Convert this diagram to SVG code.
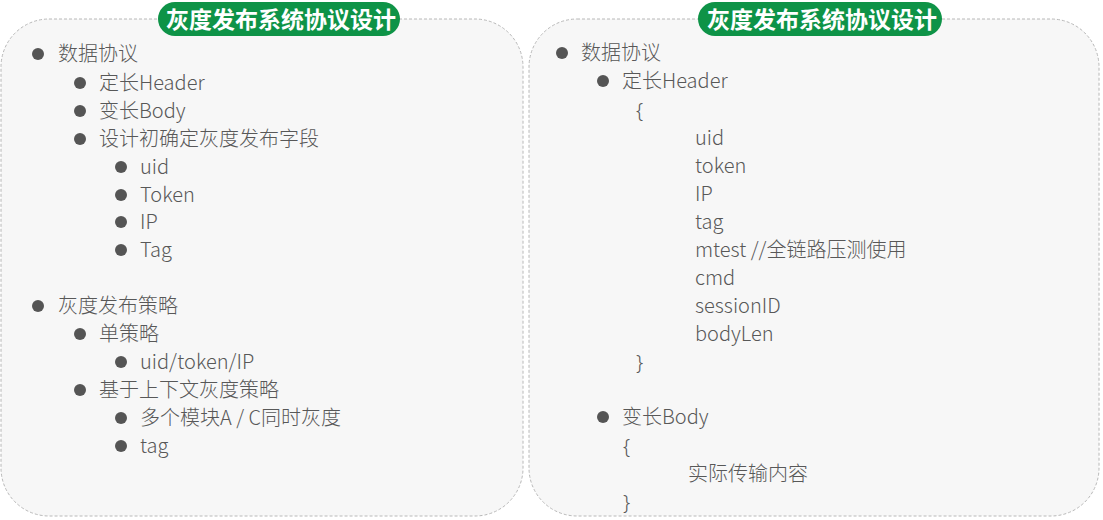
<svg xmlns="http://www.w3.org/2000/svg" width="1103" height="520" viewBox="0 0 1103 520">
<style>
.panel{fill:#f7f7f7;stroke:#b8b8b8;stroke-width:1;stroke-dasharray:3 2}
.badge{fill:#0e9347}
.bt{fill:#ffffff;font-family:"Noto Sans CJK SC","Noto Sans",sans-serif;font-size:23px;font-weight:bold;text-anchor:middle}
.t{fill:#585858;font-family:"Noto Sans CJK SC","Noto Sans",sans-serif;font-size:20px;font-weight:300}
.br{fill:#585858;font-family:"Noto Sans","DejaVu Sans",sans-serif;font-size:20px;font-weight:300}
.b{fill:#555555}
</style>
<rect width="1103" height="520" fill="#ffffff"/>
<g id="left-panel">
<rect class="panel" x="1" y="19" width="522" height="497" rx="48"/>
<rect class="badge" x="158" y="2" width="242" height="34" rx="17"/>
<text class="bt" x="281" y="28">灰度发布系统协议设计</text>
<circle class="b" cx="38" cy="54" r="6"/><text class="t" x="58" y="61">数据协议</text>
<circle class="b" cx="80" cy="83" r="6"/><text class="t" x="99" y="90">定长Header</text>
<circle class="b" cx="80" cy="111" r="6"/><text class="t" x="99" y="118">变长Body</text>
<circle class="b" cx="80" cy="139" r="6"/><text class="t" x="99" y="146">设计初确定灰度发布字段</text>
<circle class="b" cx="121" cy="167" r="6"/><text class="t" x="140" y="174">uid</text>
<circle class="b" cx="121" cy="195" r="6"/><text class="t" x="140" y="202">Token</text>
<circle class="b" cx="121" cy="222" r="6"/><text class="t" x="140" y="229">IP</text>
<circle class="b" cx="121" cy="250" r="6"/><text class="t" x="140" y="257">Tag</text>
<circle class="b" cx="38" cy="306" r="6"/><text class="t" x="58" y="313">灰度发布策略</text>
<circle class="b" cx="80" cy="334" r="6"/><text class="t" x="99" y="341">单策略</text>
<circle class="b" cx="121" cy="362" r="6"/><text class="t" x="140" y="369">uid/token/IP</text>
<circle class="b" cx="80" cy="390" r="6"/><text class="t" x="99" y="397">基于上下文灰度策略</text>
<circle class="b" cx="121" cy="418" r="6"/><text class="t" x="140" y="425">多个模块A / C同时灰度</text>
<circle class="b" cx="121" cy="446" r="6"/><text class="t" x="140" y="453">tag</text>
</g>
<g id="right-panel">
<rect class="panel" x="529" y="19" width="570" height="497" rx="48"/>
<rect class="badge" x="698" y="2" width="244" height="34" rx="17"/>
<text class="bt" x="822" y="28">灰度发布系统协议设计</text>
<circle class="b" cx="562" cy="53" r="6"/><text class="t" x="581" y="60">数据协议</text>
<circle class="b" cx="603" cy="81" r="6"/><text class="t" x="622" y="88">定长Header</text>
<text class="br" x="636" y="117">{</text>
<text class="t" x="695" y="145">uid</text>
<text class="t" x="695" y="173">token</text>
<text class="t" x="695" y="201">IP</text>
<text class="t" x="695" y="229">tag</text>
<text class="t" x="695" y="257">mtest //全链路压测使用</text>
<text class="t" x="695" y="285">cmd</text>
<text class="t" x="695" y="313">sessionID</text>
<text class="t" x="695" y="341">bodyLen</text>
<text class="br" x="636" y="369">}</text>
<circle class="b" cx="603" cy="417" r="6"/><text class="t" x="622" y="424">变长Body</text>
<text class="br" x="623" y="453">{</text>
<text class="t" x="688" y="481">实际传输内容</text>
<text class="br" x="623" y="509">}</text>
</g>
<g id="connectors"></g>
</svg>
